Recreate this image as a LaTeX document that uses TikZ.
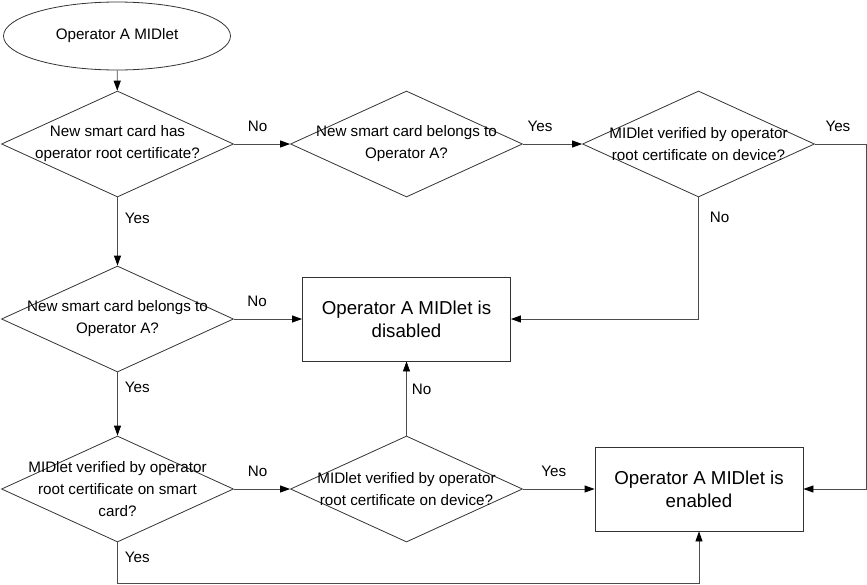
\documentclass[tikz,border=0pt]{standalone}
\usepackage{fontspec}
\setmainfont{Liberation Sans}
\usetikzlibrary{shapes.geometric,arrows.meta}
\tikzset{
	flow/.style={line width=0.8pt, color=black!70, -{Triangle[length=10pt,width=7pt,color=black]}},
	start/.style={draw=black!80, line width=0.8pt, shape=ellipse, minimum width=227pt, minimum height=68pt, inner sep=0pt, font=\fontsize{15.2}{18}\selectfont},
	decision/.style={draw=black!80, line width=0.8pt, shape=diamond, minimum width=232pt, minimum height=106pt, inner sep=0pt},
	qtext/.style={align=center, inner sep=0pt, font=\fontsize{15.2}{22}\selectfont},
	result/.style={draw=black!80, line width=0.8pt, minimum width=208pt, minimum height=84pt, align=center, font=\fontsize{18.7}{23}\selectfont},
	lbl/.style={inner sep=0pt, text=black, font=\fontsize{15.2}{18}\selectfont}
}

\begin{document}
\begin{tikzpicture}[x=1pt, y=-1pt]
		%%%%% START %%%%%
		\useasboundingbox (0, 0) rectangle (867, 584);
		
		\node[start] (mid) at (117, 36) {Operator A MIDlet};
		
		\node[decision, label={[qtext]center:{New smart card has\\operator root certificate?}}] (card) at (117.5, 144) {};
		\node[decision, label={[qtext]center:{New smart card belongs to\\Operator A?}}] (belong) at (406.5, 144) {};
		\node[decision, label={[qtext]center:{MIDlet verified by operator\\root certificate on device?}}] (devA) at (698.5, 144) {};
		
		\node[decision, label={[qtext]center:{New smart card belongs to\\Operator A?}}] (belongB) at (117.5, 319) {};
		\node[result] (off) at (406.5, 319) {Operator A MIDlet is\\disabled};
		
		\node[decision, label={[qtext]center:{MIDlet verified by operator\\root certificate on smart\\card?}}] (scard) at (117.5, 489) {};
		\node[decision, label={[qtext]center:{MIDlet verified by operator\\root certificate on device?}}] (devB) at (406.5, 489) {};
		\node[result] (on) at (699, 489) {Operator A MIDlet is\\enabled};
		
		\coordinate (rt) at (866, 489);
		\coordinate (bt) at (117.5, 583);
		
		\draw[flow] (mid) -- (card);
		\draw[flow] (card) -- node[lbl, above=12pt, pos=.42] (no1) {No} (belong);
		\draw[flow] (belong) -- node[lbl, above=12pt, pos=.29] (yes1) {Yes} (devA);
		\draw[flow] (devA.east) -- node[lbl, above=12pt, pos=.45] (yes2) {Yes} (devA.east -| rt) -- (rt) -- (on.east);
		\draw[flow] (devA.south) |- node[lbl, right=11pt, pos=.08] (no2) {No} (off.east);
		
		\draw[flow] (card) -- node[lbl, right=7pt, pos=.3] (yes3) {Yes} (belongB);
		\draw[flow] (belongB) -- node[lbl, above=12pt, pos=.34] (no3) {No} (off);
		\draw[flow] (belongB) -- node[lbl, right=7pt, pos=.24] (yes4) {Yes} (scard);
		
		\draw[flow] (scard) -- node[lbl, above=12pt, pos=.42] (no4) {No} (devB);
		\draw[flow] (devB) -- node[lbl, right=5pt, pos=.62] (no5) {No} (off);
		\draw[flow] (devB) -- node[lbl, above=12pt, pos=.43] (yes5) {Yes} (on);
		\draw[flow] (scard.south) -- node[lbl, right=7pt, pos=.37] (yes6) {Yes} (bt) -| (on.south);
		
		%%%%% END %%%%%
\end{tikzpicture}
\end{document}
